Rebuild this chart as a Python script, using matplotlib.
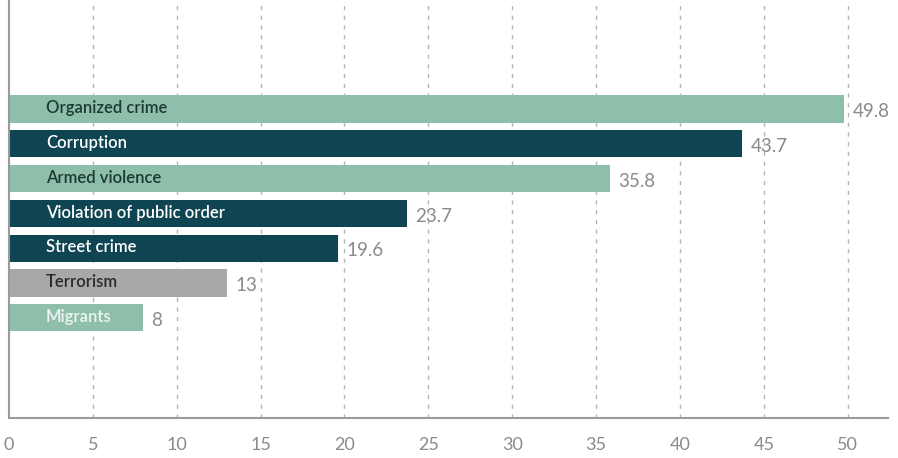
import matplotlib.pyplot as plt

categories = ["Organized crime", "Corruption", "Armed violence",
              "Violation of public order", "Street crime", "Terrorism", "Migrants"]
values = [49.8, 43.7, 35.8, 23.7, 19.6, 13, 8]
labels = ["49.8", "43.7", "35.8", "23.7", "19.6", "13", "8"]

light = "#8dbfab"
dark = "#0f4452"
grey = "#a8a8a8"
bar_colors = [light, dark, light, dark, dark, grey, light]
text_colors = ["#1c3a33", "#ffffff", "#1c3a33", "#ffffff", "#ffffff", "#2a2a2a", "#eef5f2"]

plt.rcParams['font.family'] = ['Lato', 'DejaVu Sans']

fig = plt.figure(figsize=(8.98, 4.58), dpi=100)
ax = fig.add_axes([9 / 898, 40 / 458, 879 / 898, 418 / 458])

pos = list(range(len(categories)))
ax.barh(pos, values, height=0.78, color=bar_colors, zorder=2)

for i, (v, lab) in enumerate(zip(values, labels)):
    ax.text(2.2, i - 0.02, categories[i], va="center", ha="left",
            fontsize=12, fontweight="semibold", color=text_colors[i], zorder=3)
    ax.text(v + 0.5, i + 0.08, lab, va="center", ha="left",
            fontsize=13.5, color="#8a8a8a", zorder=3)

ax.set_xlim(0, 52.4)
ax.set_ylim(8.88, -3.13)
ax.set_xticks(range(0, 51, 5))
ax.set_yticks([])
ax.tick_params(axis="x", length=0, pad=14, labelsize=13, labelcolor="#8a8a8a")

for x in range(5, 51, 5):
    ax.axvline(x, color="#b5b5b5", lw=1, ls=(0, (3, 4)), zorder=1)

for s in ["top", "right"]:
    ax.spines[s].set_visible(False)
ax.spines["left"].set_color("#9a9a9a")
ax.spines["bottom"].set_color("#9a9a9a")
ax.spines["left"].set_linewidth(1.5)
ax.spines["bottom"].set_linewidth(1.5)

fig.savefig("out.png", dpi=100)
